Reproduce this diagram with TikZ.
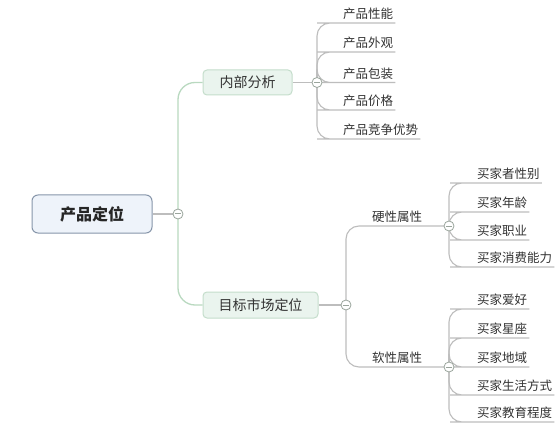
\documentclass[tikz,border=0pt]{standalone}
\usepackage{fontspec}
\setmainfont{Noto Sans CJK SC}
\usetikzlibrary{backgrounds}
\definecolor{txt}{HTML}{333333}
\definecolor{rootfill}{HTML}{EEF3FA}
\definecolor{rootdraw}{HTML}{8796AA}
\definecolor{subfill}{HTML}{EAF4EE}
\definecolor{subdraw}{HTML}{C4DDCB}
\definecolor{greenline}{HTML}{B9D9C0}
\definecolor{grayline}{HTML}{BDBDBD}
\definecolor{knob}{HTML}{9AA59C}
\tikzset{
  rootbox/.style={draw=rootdraw, fill=rootfill, line width=1pt, rounded corners=6pt,
    minimum width=120pt, minimum height=38pt, font=\fontsize{16}{18}\selectfont\bfseries, text=black!85},
  subbox/.style={draw=subdraw, fill=subfill, line width=1pt, rounded corners=4pt,
    minimum height=25pt, font=\fontsize{14}{16}\selectfont, text=txt},
  leaf/.style={inner xsep=0pt, inner ysep=3pt, anchor=south west, font=\fontsize{12.5}{14}\selectfont, text=txt},
  knobc/.style={circle, draw=knob, fill=white, line width=0.8pt, minimum size=10pt, inner sep=0pt,
    path picture={\draw[knob, line width=1pt] ([xshift=-2.6pt]path picture bounding box.center) -- ([xshift=2.6pt]path picture bounding box.center);}},
  gconn/.style={greenline, line width=1.3pt, rounded corners=17pt},
  rconn/.style={grayline, line width=1.3pt},
  lconn/.style={grayline, line width=1.1pt, rounded corners=13pt},
}
\begin{document}
\begin{tikzpicture}[x=1pt, y=-1pt]
\useasboundingbox (0,0) rectangle (558,428);

% main nodes
\node[rootbox] (root) at (92,214) {产品定位};
\node[subbox, minimum width=89pt] (nb) at (247.5,82.5) {内部分析};
\node[subbox, minimum width=115pt, minimum height=26pt] (mk) at (260.5,305) {目标市场定位};

% knobs
\node[knobc] (k1) at (178,214) {};
\node[knobc] (k2) at (317,82.5) {};
\node[knobc] (k3) at (346,305) {};
\node[knobc] (k4) at (449,226) {};
\node[knobc] (k5) at (449,367) {};

% internal analysis leaves
\node[leaf] (a1) at (343,23) {产品性能};
\node[leaf] (a2) at (343,52) {产品外观};
\node[leaf] (a3) at (343,82.5) {产品包装};
\node[leaf] (a4) at (343,110) {产品价格};
\node[leaf] (a5) at (343,139) {产品竞争优势};

% hard / soft
\node[leaf] (h) at (372,226) {硬性属性};
\node[leaf] (s) at (372,367) {软性属性};

% hard leaves
\node[leaf] (h1) at (477,183) {买家者性别};
\node[leaf] (h2) at (477,212) {买家年龄};
\node[leaf] (h3) at (477,240) {买家职业};
\node[leaf] (h4) at (477,267) {买家消费能力};

% soft leaves
\node[leaf] (s1) at (477,309) {买家爱好};
\node[leaf] (s2) at (477,338) {买家星座};
\node[leaf] (s3) at (477,367) {买家地域};
\node[leaf] (s4) at (477,395) {买家生活方式};
\node[leaf] (s5) at (477,422) {买家教育程度};

\begin{scope}[on background layer]
  \fill[white] (0,0) rectangle (558,428);
  \draw[rconn] (root.east) -- (k1.center);
  \draw[gconn] (k1.center) |- (nb.west);
  \draw[gconn] (k1.center) |- (mk.west);
  \draw[rconn] (nb.east) -- (k2.center);
  \draw[rconn] (mk.east) -- (k3.center);
  \foreach \n in {a1,a2,a3,a4,a5}
    \draw[lconn] (k2.center) |- ([xshift=-13pt]\n.south west) -- ([xshift=2pt]\n.south east);
  \draw[lconn] (k3.center) |- (h.south west) -- (k4.center);
  \draw[lconn] (k3.center) |- (s.south west) -- (k5.center);
  \foreach \n in {h1,h2,h3,h4}
    \draw[lconn] (k4.center) |- ([xshift=-14pt]\n.south west) -- ([xshift=2pt]\n.south east);
  \foreach \n in {s1,s2,s3,s4,s5}
    \draw[lconn] (k5.center) |- ([xshift=-14pt]\n.south west) -- ([xshift=2pt]\n.south east);
\end{scope}
\end{tikzpicture}
\end{document}
